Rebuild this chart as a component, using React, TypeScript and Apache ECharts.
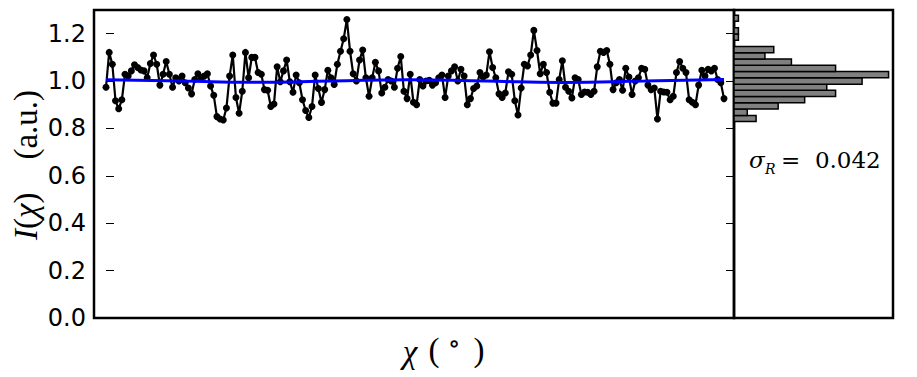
import React, { useEffect, useRef } from "react";
import * as echarts from "echarts";

// Measured intensity I(chi), one value per sample (left to right)
const intensity: number[] = [
  0.974, 1.121, 1.071, 0.917, 0.883, 0.921, 1.029, 1.021, 1.043, 1.069,
  1.057, 1.047, 1.043, 1.014, 1.074, 1.11, 1.071, 0.983, 1.029, 1.083,
  1.029, 0.974, 1.014, 1.0, 1.021, 0.993, 0.971, 0.946, 1.007, 1.031,
  1.014, 1.021, 1.031, 0.979, 0.94, 0.85, 0.84, 0.836, 0.886, 1.021,
  1.11, 0.931, 0.864, 0.957, 1.121, 1.014, 1.1, 1.1,
  1.036, 1.029, 0.964, 0.961, 0.893, 0.903, 1.06, 0.997, 1.043, 1.089,
  0.997, 0.953, 1.026, 0.993, 0.921, 0.876, 0.846, 0.893, 1.026, 0.969,
  0.91, 0.964, 1.046, 1.014, 0.986, 1.071, 1.126, 1.179, 1.26, 1.126,
  1.031, 1.0, 1.089, 1.131, 1.014, 0.936, 1.014, 1.079, 1.043, 0.95,
  0.974, 1.007, 1.0, 0.974, 1.054, 1.104, 0.957, 0.926, 1.029,
  0.911, 0.9, 1.007, 0.979, 1.0, 1.003, 0.983, 0.993, 1.014, 1.026,
  0.931, 1.021, 1.043, 1.06, 1.0, 1.05, 1.021, 0.9, 0.926, 0.969,
  0.979, 1.036, 1.017, 1.026, 1.124, 1.057, 1.014, 0.946, 0.931, 0.95,
  1.039, 1.029, 0.917, 0.857, 0.971, 1.071, 1.064, 1.11, 1.214, 1.129,
  1.031, 1.071, 1.036, 0.953, 0.907, 0.907, 1.007, 1.086, 0.974,
  0.957, 0.929, 1.014, 1.007, 0.943, 0.954, 0.953, 0.943, 0.957, 1.06,
  1.126, 1.121, 1.129, 1.071, 0.964, 0.993, 1.007, 0.961, 1.054, 1.017,
  0.943, 1.0, 1.014, 1.054, 1.05, 0.983, 0.964, 0.971, 0.84, 0.957,
  0.954, 0.953, 0.921, 0.936, 1.036, 1.083, 1.054, 1.036, 0.921, 0.911,
  0.9, 0.983, 1.046, 1.021, 1.05, 1.043, 1.054, 1.007, 0.993, 0.926,
];

// Smooth fit (blue) : sample index -> value
const fitIndex: number[] = [0, 24, 47, 71, 95, 120, 144, 170, 195];
const fitValues: number[] = [1.006, 1.0, 0.995, 1.0, 1.006, 1.0, 0.994, 1.0, 1.007];

// Histogram of intensities (side panel)
const histEdges: number[] = [
  0.829, 0.855, 0.882, 0.908, 0.935, 0.961, 0.987, 1.014, 1.04, 1.067,
  1.093, 1.12, 1.146, 1.172, 1.199, 1.225, 1.252, 1.278,
];
const histCounts: number[] = [5, 3, 10, 16, 23, 21, 29, 35, 23, 13, 7, 9, 0, 1, 1, 0, 1];

const sigmaValue = "0.042";

export default function App() {
  const ref = useRef<HTMLDivElement>(null);

  useEffect(() => {
    if (!ref.current) return;
    const chart = echarts.init(ref.current, null, { renderer: "svg" });

    const n = intensity.length;
    const plotW = 640;
    const spanPx = 618;
    const s = spanPx / (n - 1);
    const xMin = -12 / s;
    const xMax = n - 1 + (plotW - spanPx - 12) / s;

    const histData = histCounts
      .map((c, i) => [histEdges[i], histEdges[i + 1], c])
      .filter((d) => d[2] > 0);

    const serif = '"Liberation Serif", "DejaVu Serif", serif';
    const center = { align: "center", verticalAlign: "middle", textAlign: "center", textVerticalAlign: "middle" };
    const leftMid = { align: "left", verticalAlign: "middle", textAlign: "left", textVerticalAlign: "middle" };

    const option: any = {
      animation: false,
      backgroundColor: "#fff",
      grid: [
        { left: 94, top: 10, width: 640, height: 308, show: true, borderColor: "#000", borderWidth: 2.5, backgroundColor: "transparent" },
        { left: 734, top: 10, width: 159, height: 308, show: true, borderColor: "#000", borderWidth: 2.5, backgroundColor: "transparent" },
      ],
      xAxis: [
        {
          gridIndex: 0, type: "value", min: xMin, max: xMax,
          axisLabel: { show: false }, axisTick: { show: false }, axisLine: { show: false }, splitLine: { show: false },
        },
        {
          gridIndex: 1, type: "value", min: 0, max: 36,
          axisLabel: { show: false }, axisTick: { show: false }, axisLine: { show: false }, splitLine: { show: false },
        },
      ],
      yAxis: [
        {
          gridIndex: 0, type: "value", min: 0, max: 1.3, interval: 0.2,
          axisLabel: {
            fontSize: 24, fontFamily: '"DejaVu Sans", sans-serif', color: "#000", margin: 8,
            showMaxLabel: false, formatter: (v: number) => v.toFixed(1),
          },
          axisTick: { show: true, inside: true, length: 8, lineStyle: { color: "#000", width: 1 } },
          axisLine: { show: false }, splitLine: { show: false },
        },
        {
          gridIndex: 0, type: "value", position: "right", min: 0, max: 1.3, interval: 0.2,
          axisLabel: { show: false },
          axisTick: { show: true, inside: true, length: 8, lineStyle: { color: "#000", width: 1 } },
          axisLine: { show: false }, splitLine: { show: false },
        },
        {
          gridIndex: 1, type: "value", min: 0, max: 1.3, interval: 0.2,
          axisLabel: { show: false },
          axisTick: { show: false },
          axisLine: { show: false }, splitLine: { show: false },
        },
      ],
      series: [
        {
          type: "line", xAxisIndex: 0, yAxisIndex: 0,
          data: intensity.map((v, i) => [i, v]),
          symbol: "circle", symbolSize: 7,
          lineStyle: { color: "#000", width: 2.2 },
          itemStyle: { color: "#000" },
          z: 2,
        },
        {
          type: "line", xAxisIndex: 0, yAxisIndex: 0,
          data: fitIndex.map((x, i) => [x, fitValues[i]]),
          smooth: true, symbol: "none",
          lineStyle: { color: "#0000ff", width: 3 },
          z: 3,
        },
        {
          type: "custom", xAxisIndex: 1, yAxisIndex: 2,
          data: histData,
          renderItem: (params: any, api: any) => {
            const lo = api.value(0);
            const hi = api.value(1);
            const c = api.value(2);
            const p0 = api.coord([0, lo]);
            const p1 = api.coord([c, hi]);
            return {
              type: "rect",
              shape: { x: p0[0], y: p1[1], width: p1[0] - p0[0], height: p0[1] - p1[1] },
              style: { fill: "#808080", stroke: "#000", lineWidth: 1.5 },
            };
          },
          z: 2,
        },
      ],
      graphic: [
        {
          type: "text", x: 26, y: 165, rotation: Math.PI / 2, z: 10,
          style: {
            text: "{it|I}({it|χ})    (a.u.)",
            fontFamily: serif, fontSize: 33, fill: "#000",
            ...center,
            rich: { it: { fontFamily: serif, fontSize: 33, fontStyle: "italic", fill: "#000" } },
          },
        },
        {
          type: "text", x: 410, y: 352, z: 10,
          style: { text: "χ", fontFamily: serif, fontSize: 33, fontStyle: "italic", fill: "#000", ...center },
        },
        {
          type: "text", x: 434, y: 350, z: 10,
          style: { text: "(", fontFamily: serif, fontSize: 33, fill: "#000", ...center },
        },
        {
          type: "text", x: 454, y: 343, z: 10,
          style: { text: "∘", fontFamily: serif, fontSize: 26, fill: "#000", ...center },
        },
        {
          type: "text", x: 479, y: 350, z: 10,
          style: { text: ")", fontFamily: serif, fontSize: 33, fill: "#000", ...center },
        },
        {
          type: "text", x: 749, y: 160, z: 10,
          style: { text: "σ", fontFamily: '"DejaVu Serif", serif', fontSize: 23, fontStyle: "italic", fill: "#000", ...leftMid },
        },
        {
          type: "text", x: 765, y: 169, z: 10,
          style: { text: "R", fontFamily: '"DejaVu Serif", serif', fontSize: 14, fontStyle: "italic", fill: "#000", ...leftMid },
        },
        {
          type: "text", x: 781, y: 160, z: 10,
          style: { text: "=  " + sigmaValue, fontFamily: '"DejaVu Serif", serif', fontSize: 23, fill: "#000", ...leftMid },
        },
      ],
    };

    chart.setOption(option);
    return () => chart.dispose();
  }, []);

  return (
    <div
      ref={ref}
      style={{ position: "fixed", left: 0, top: 0, width: 917, height: 377, background: "#fff" }}
    />
  );
}
